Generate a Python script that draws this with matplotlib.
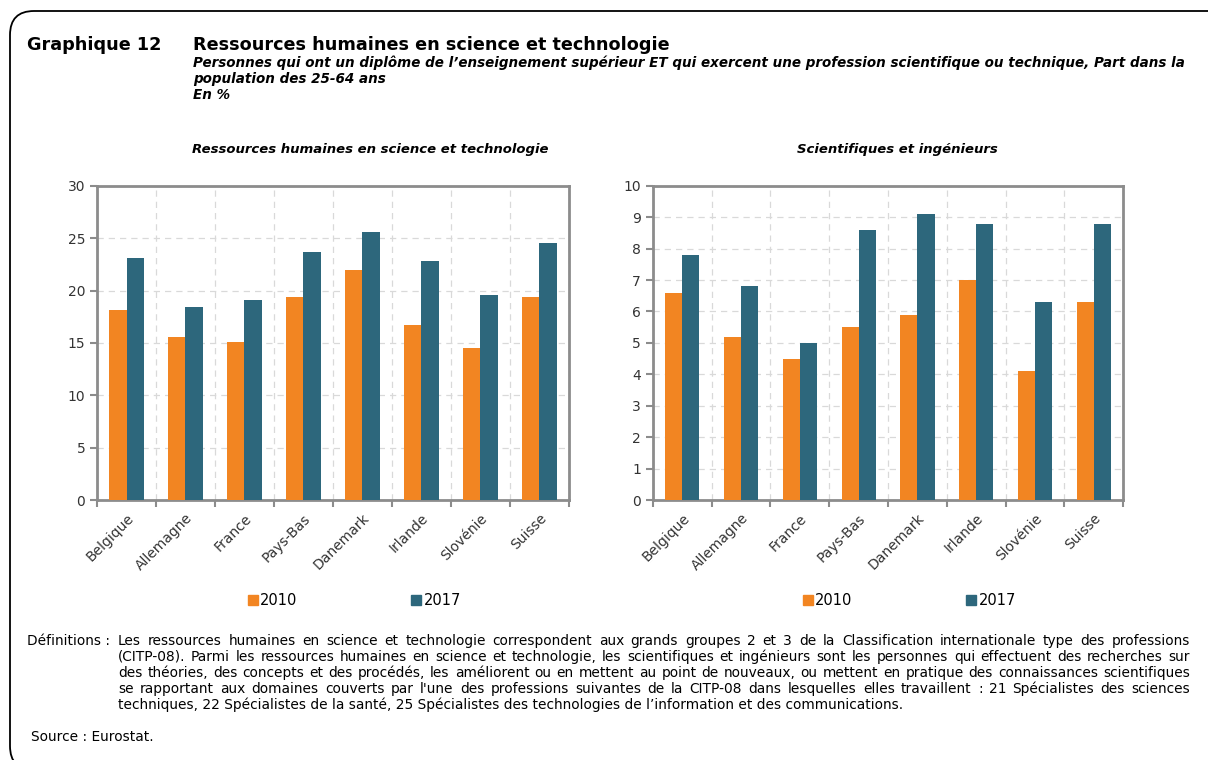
import matplotlib
matplotlib.use("Agg")
import matplotlib.pyplot as plt
import numpy as np
from matplotlib.patches import FancyBboxPatch, Patch

pays = ["Belgique", "Allemagne", "France", "Pays-Bas", "Danemark",
        "Irlande", "Slovénie", "Suisse"]

# Ressources humaines en science et technologie (%)
rhst_2010 = [18.1, 15.6, 15.1, 19.4, 22.0, 16.7, 14.5, 19.4]
rhst_2017 = [23.1, 18.4, 19.1, 23.7, 25.6, 22.8, 19.6, 24.5]

# Scientifiques et ingénieurs (%)
sci_2010 = [6.6, 5.2, 4.5, 5.5, 5.9, 7.0, 4.1, 6.3]
sci_2017 = [7.8, 6.8, 5.0, 8.6, 9.1, 8.8, 6.3, 8.8]

annees = ["2010", "2017"]
ORANGE = "#F28522"
BLEU = "#2D677C"
GRIS = "#8C8C8C"
TEXTE = "#333333"

plt.rcParams["font.family"] = ["DejaVu Sans"]

W, H = 1208, 760
fig = plt.figure(figsize=(W / 100, H / 100), dpi=100)


def px(x, y):
    # pixels depuis le coin haut-gauche -> fraction de figure
    return x / W, 1 - y / H


# cadre arrondi (bords droit et bas hors champ)
cadre = FancyBboxPatch((10, -10), 1240, H - 11 + 10,
                       boxstyle="round,pad=0,rounding_size=24",
                       transform=None, fill=False,
                       edgecolor="black", linewidth=1.3)
fig.patches.append(cadre)

fig.text(*px(27, 45), "Graphique 12", fontsize=12.7, fontweight="bold",
         va="center")
fig.text(*px(193, 45), "Ressources humaines en science et technologie",
         fontsize=12.7, fontweight="bold", va="center")
sous_titre = ["Personnes qui ont un diplôme de l’enseignement supérieur ET qui exercent une profession scientifique ou technique, Part dans la",
              "population des 25-64 ans",
              "En %"]
for i, ligne in enumerate(sous_titre):
    fig.text(*px(193, 63 + i * 16), ligne, fontsize=9.75,
             fontweight="bold", fontstyle="italic", va="center")


def dessiner(ax, v2010, v2017, ymax, pas, titre, x_titre):
    x = np.arange(len(pays))
    w = 0.29
    ax.bar(x - w / 2, v2010, width=w, color=ORANGE, zorder=3)
    ax.bar(x + w / 2, v2017, width=w, color=BLEU, zorder=3)
    ax.set_xlim(-0.5, len(pays) - 0.5)
    ax.set_ylim(0, ymax)
    ax.set_yticks(np.arange(0, ymax + pas / 2, pas))
    ax.set_xticks(x)
    ax.set_xticklabels(pays, rotation=45, ha="right", rotation_mode="anchor",
                       fontsize=10, color=TEXTE)
    ax.set_xticks(np.arange(-0.5, len(pays)), minor=True)
    ax.tick_params(axis="x", which="major", length=0, pad=8)
    ax.tick_params(axis="x", which="minor", length=5, width=1.5, color=GRIS)
    ax.tick_params(axis="y", length=5, width=1.5, color=GRIS,
                   labelsize=10, labelcolor=TEXTE)
    ax.grid(axis="y", which="major", color="#D9D9D9", linestyle=(0, (5, 4)),
            linewidth=0.9, zorder=0)
    ax.grid(axis="x", which="minor", color="#D9D9D9", linestyle=(0, (5, 4)),
            linewidth=0.9, zorder=0)
    for s in ax.spines.values():
        s.set_color(GRIS)
        s.set_linewidth(2)
    fig.text(*px(x_titre, 149), titre, fontsize=9.5, fontweight="bold",
             fontstyle="italic", ha="center", va="center")
    poignees = [Patch(color=ORANGE, label=annees[0]),
                Patch(color=BLEU, label=annees[1])]
    ax.legend(handles=poignees, loc="center", bbox_to_anchor=(0.545, -0.32),
              ncol=2, frameon=False, fontsize=10.5, handlelength=0.7,
              handleheight=0.7, handletextpad=0.15, columnspacing=7.8)


ax1 = fig.add_axes([0.0803, 0.3421, 0.3907, 0.4134])
ax2 = fig.add_axes([0.5405, 0.3421, 0.3893, 0.4134])
dessiner(ax1, rhst_2010, rhst_2017, 30, 5,
         "Ressources humaines en science et technologie", 370)
dessiner(ax2, sci_2010, sci_2017, 10, 1, "Scientifiques et ingénieurs", 897)

definitions = [
    "Les ressources humaines en science et technologie correspondent aux grands groupes 2 et 3 de la Classification internationale type des professions",
    "(CITP-08). Parmi les ressources humaines en science et technologie, les scientifiques et ingénieurs sont les personnes qui effectuent des recherches sur",
    "des théories, des concepts et des procédés, les améliorent ou en mettent au point de nouveaux, ou mettent en pratique des connaissances scientifiques",
    "se rapportant aux domaines couverts par l'une des professions suivantes de la CITP-08 dans lesquelles elles travaillent : 21 Spécialistes des sciences",
    "techniques, 22 Spécialistes de la santé, 25 Spécialistes des technologies de l’information et des communications.",
]
FS_DEF = 9.9
X0, X1 = 118, 1190
fig.text(*px(27, 641), "Définitions :", fontsize=FS_DEF, va="center")

# paragraphe justifié : les mots de chaque ligne (sauf la dernière)
# sont répartis entre X0 et X1
renderer = fig.canvas.get_renderer()
for i, ligne in enumerate(definitions):
    y = 641 + i * 16
    if i == len(definitions) - 1:
        fig.text(*px(X0, y), ligne, fontsize=FS_DEF, va="center")
        continue
    mots = ligne.split(" ")
    objets = [fig.text(*px(X0, y), m, fontsize=FS_DEF, va="center")
              for m in mots]
    largeurs = [t.get_window_extent(renderer).width for t in objets]
    espace = (X1 - X0 - sum(largeurs)) / (len(mots) - 1)
    x = X0
    for t, lw in zip(objets, largeurs):
        t.set_position(px(x, y))
        x += lw + espace

fig.text(*px(31, 737), "Source : Eurostat.", fontsize=FS_DEF, va="center")

fig.savefig("out.png", dpi=100)
